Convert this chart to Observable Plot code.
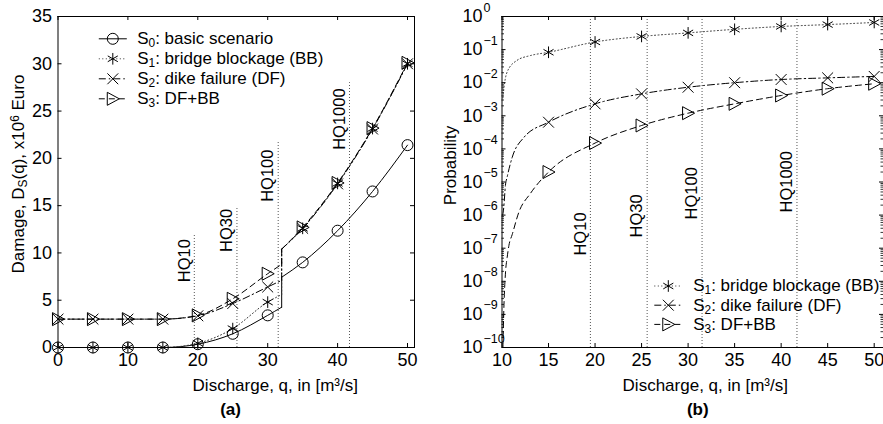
<!DOCTYPE html>
<html><head><meta charset="utf-8">
<script src="https://cdn.jsdelivr.net/npm/d3@7"></script>
<script src="https://cdn.jsdelivr.net/npm/@observablehq/plot@0.6"></script>
<style>
html,body{margin:0;padding:0;background:#fff;}
#wrap{position:relative;width:883px;height:424px;overflow:hidden;background:#fff;}
#a{position:absolute;left:0;top:0;width:440px;}
#b{position:absolute;left:440px;top:0;width:443px;}
svg text{font-family:"Liberation Sans",Arial,Helvetica,sans-serif;}
</style></head><body>
<div id="wrap"><div id="a"></div><div id="b"></div></div>
<script>
// ---------- data: panel (a) damage ----------
const qA = [0, 5, 10, 15, 20, 25, 30, 35, 40, 45, 50];
const damageS0 = [0, 0, 0, 0, 0.35, 1.45, 3.4, 9.0, 12.35, 16.5, 21.4];
const damageS1 = [0, 0, 0, 0, 0.45, 2.0, 4.8, 12.6, 17.35, 23.15, 30.0];
const damageS2 = [3, 3, 3, 3, 3.35, 4.65, 6.4, 12.6, 17.3, 23.1, 30.0];
const damageS3 = [3, 3, 3, 3, 3.4, 5.15, 7.8, 12.7, 17.4, 23.2, 30.1];
const jumpQ = 32;
const jumpLow = [4.26, 5.6, 7.1, 8.8];
const jumpHigh = [7.43, 10.4, 10.4, 10.4];

// ---------- data: panel (b) probability ----------
const qB = [15, 20, 25, 30, 35, 40, 45, 50];
const probS1 = [0.083, 0.17, 0.25, 0.32, 0.41, 0.5, 0.57, 0.66];
const probS2 = [6.4e-4, 2.3e-3, 4.6e-3, 7.3e-3, 1.0e-2, 1.25e-2, 1.4e-2, 1.55e-2];
const probS3 = [2.0e-5, 1.5e-4, 5.1e-4, 1.2e-3, 2.3e-3, 4.1e-3, 6.6e-3, 9.3e-3];
// curve points left of the first marker (read from the steep rise near q=10)
const leadQ1 = [10.1, 10.2, 10.55, 11.6, 13.05];
const leadP1 = [3.5e-3, 6.6e-3, 0.021, 0.047, 0.066];
const leadQ2 = [10.08, 10.19, 10.37, 10.55, 11.1, 12.34];
const leadP2 = [1e-6, 1.7e-6, 8e-6, 1.4e-5, 5.6e-5, 2.2e-4];
const leadQ3 = [10.1, 10.2, 10.38, 10.56, 10.74, 11.1, 11.8, 13.05];
const leadP3 = [1e-10, 1.5e-9, 1.9e-8, 5.4e-8, 1.2e-7, 2.6e-7, 1.2e-6, 4.5e-6];

// ---------- annotations ----------
const hqNames = ["HQ10", "HQ30", "HQ100", "HQ1000"];
const hqQ = [19.5, 25.6, 31.5, 41.7];
const hqTopA = [12.0, 14.9, 21.7, 28.0];
const hqLabelA = [6.9, 10.1, 15.4, 20.9];
const hqLabelB = [6.0e-8, 2.1e-7, 7.4e-7, 1.2e-6];

// ---------- ticks & labels ----------
const xTicksA = [0, 10, 20, 30, 40, 50];
const yTicksA = [0, 5, 10, 15, 20, 25, 30, 35];
const xTicksB = [10, 15, 20, 25, 30, 35, 40, 45, 50];
const decadesB = [-10, -9, -8, -7, -6, -5, -4, -3, -2, -1, 0];
const legendA = ["S_{0}: basic scenario", "S_{1}: bridge blockage (BB)", "S_{2}: dike failure (DF)", "S_{3}: DF+BB"];
const xLabel = "Discharge, q, in [m³/s]";
const yLabelA = "Damage, D_{S}(q), x10^{6} Euro";
const yLabelB = "Probability";

// ---------- styles ----------
const triRight = {draw(ctx, size) {const r = Math.sqrt(size / Math.PI); ctx.moveTo(r, 0); ctx.lineTo(-0.85 * r, -r); ctx.lineTo(-0.85 * r, r); ctx.closePath();}};
const legendLine = {draw(ctx) {ctx.moveTo(-14, 0); ctx.lineTo(14, 0);}};
const styles = [
  {dash: null, symbol: "circle", r: 5.5, stroke: "black"},
  {dash: "1,2.5", symbol: "asterisk", r: 5.5, stroke: "#333"},
  {dash: "7,3,1.5,3", symbol: "times", r: 5, stroke: "black"},
  {dash: "6,4", symbol: triRight, r: 6.5, stroke: "black"}
];
const FONT = '"Liberation Sans", Arial, Helvetica, sans-serif';
const H = 424, MT = 16, MB = 77, FH = H - MT - MB;

// ---------- panel (a) ----------
const WA = 440, MLA = 57.5, MRA = 26, FWA = WA - MLA - MRA;
const seriesA = [damageS0, damageS1, damageS2, damageS3];
const hqA = hqNames.map((name, i) => ({name, q: hqQ[i], top: hqTopA[i], lab: hqLabelA[i]}));
const marksA = [];
marksA.push(Plot.ruleX(hqA, {x: "q", y1: 0, y2: "top", stroke: "#555", strokeDasharray: "1,2", strokeWidth: 1}));
marksA.push(Plot.text(hqA, {x: "q", y: "lab", text: "name", rotate: -90, textAnchor: "start", lineAnchor: "middle", dx: -10, fontSize: 16.5}));
seriesA.forEach((vals, i) => {
  const st = styles[i];
  const pts = qA.map((q, j) => ({q, v: vals[j]}));
  const pre = pts.filter(d => d.q < jumpQ).concat([{q: jumpQ, v: jumpLow[i]}]);
  const post = [{q: jumpQ, v: jumpHigh[i]}].concat(pts.filter(d => d.q > jumpQ));
  const jmp = [{q: jumpQ, v: jumpLow[i]}, {q: jumpQ, v: jumpHigh[i]}];
  const o = {x: "q", y: "v", stroke: st.stroke, strokeWidth: 1, strokeDasharray: st.dash};
  marksA.push(Plot.line(pre, {...o, curve: "monotone-x"}));
  marksA.push(Plot.line(jmp, o));
  marksA.push(Plot.line(post, {...o, curve: "monotone-x"}));
});
seriesA.forEach((vals, i) => {
  const st = styles[i];
  marksA.push(Plot.dot(qA.map((q, j) => ({q, v: vals[j]})), {x: "q", y: "v", symbol: st.symbol, r: st.r, stroke: "black", fill: "none", strokeWidth: 1}));
});
marksA.push(Plot.frame({stroke: "black", strokeWidth: 1}));
marksA.push(Plot.tickX(xTicksA, {x: d => d, insetTop: FH - 4}));
marksA.push(Plot.tickX(xTicksA, {x: d => d, insetBottom: FH - 4}));
marksA.push(Plot.tickY(yTicksA, {y: d => d, insetRight: FWA - 4}));
marksA.push(Plot.tickY(yTicksA, {y: d => d, insetLeft: FWA - 4}));
marksA.push(Plot.text(xTicksA, {x: d => d, frameAnchor: "bottom", dy: 13, lineAnchor: "middle", textAnchor: "middle", text: d => String(d), fontSize: 18}));
marksA.push(Plot.text(yTicksA, {y: d => d, frameAnchor: "left", dx: -6, textAnchor: "end", lineAnchor: "middle", text: d => String(d), fontSize: 18}));
legendA.forEach((lab, i) => {
  const st = styles[i], dy = 22.3 + 20 * i;
  marksA.push(Plot.dot([0], {frameAnchor: "top-left", dx: 54.8, dy, symbol: legendLine, stroke: st.stroke, strokeDasharray: st.dash, fill: "none", strokeWidth: 1}));
  marksA.push(Plot.dot([0], {frameAnchor: "top-left", dx: 54.8, dy, symbol: st.symbol, r: st.r, stroke: "black", fill: "none", strokeWidth: 1}));
  marksA.push(Plot.text([lab], {frameAnchor: "top-left", dx: 79.2, dy, textAnchor: "start", lineAnchor: "middle", fontSize: 17}));
});
marksA.push(Plot.text([xLabel], {frameAnchor: "bottom", dx: 39, dy: 38, textAnchor: "middle", lineAnchor: "middle", fontSize: 17}));
marksA.push(Plot.text(["(a)"], {frameAnchor: "bottom", dx: -5.7, dy: 61.7, textAnchor: "middle", lineAnchor: "middle", fontSize: 17, fontWeight: "bold"}));
marksA.push(Plot.text([yLabelA], {frameAnchor: "left", rotate: -90, dx: -39.5, dy: -8, textAnchor: "middle", lineAnchor: "middle", fontSize: 17}));

const plotA = Plot.plot({
  width: WA, height: H, marginLeft: MLA, marginRight: MRA, marginTop: MT, marginBottom: MB,
  x: {domain: [0, 51], axis: null}, y: {domain: [0, 35], axis: null},
  style: {fontFamily: FONT, fontSize: "17px", background: "white", color: "black"},
  marks: marksA
});

// ---------- panel (b) ----------
const WB = 443, MLB = 61.5, MRB = 0, FWB = WB - MLB - MRB;
const seriesB = [
  {lead: leadQ1.map((q, j) => ({q, p: leadP1[j]})), vals: probS1, st: styles[1]},
  {lead: leadQ2.map((q, j) => ({q, p: leadP2[j]})), vals: probS2, st: styles[2]},
  {lead: leadQ3.map((q, j) => ({q, p: leadP3[j]})), vals: probS3, st: styles[3]}
];
const minorB = [];
decadesB.slice(0, -1).forEach(k => { for (let m = 2; m <= 9; m++) minorB.push(m * Math.pow(10, k)); });
const majorB = decadesB.map(k => Math.pow(10, k));
const hqB = hqNames.map((name, i) => ({name, q: hqQ[i], lab: hqLabelB[i]}));
const marksB = [];
marksB.push(Plot.ruleX(hqB, {x: "q", stroke: "#555", strokeDasharray: "1,2", strokeWidth: 1}));
marksB.push(Plot.text(hqB, {x: "q", y: "lab", text: "name", rotate: -90, textAnchor: "start", lineAnchor: "middle", dx: -10, fontSize: 16.5}));
seriesB.forEach(s => {
  const pts = s.lead.concat(qB.map((q, j) => ({q, p: s.vals[j]})));
  marksB.push(Plot.line(pts, {x: "q", y: "p", curve: "monotone-x", stroke: s.st.stroke, strokeWidth: 1, strokeDasharray: s.st.dash}));
});
seriesB.forEach(s => {
  marksB.push(Plot.dot(qB.map((q, j) => ({q, p: s.vals[j]})), {x: "q", y: "p", symbol: s.st.symbol, r: s.st.r, stroke: "black", fill: "none", strokeWidth: 1}));
});
marksB.push(Plot.ruleX([10], {stroke: "black", strokeWidth: 1}));
marksB.push(Plot.ruleY([1e-10, 1], {stroke: "black", strokeWidth: 1}));
marksB.push(Plot.tickX(xTicksB, {x: d => d, insetTop: FH - 4}));
marksB.push(Plot.tickX(xTicksB, {x: d => d, insetBottom: FH - 4}));
marksB.push(Plot.tickY(majorB, {y: d => d, insetRight: FWB - 4}));
marksB.push(Plot.tickY(majorB, {y: d => d, insetLeft: FWB - 4}));
marksB.push(Plot.tickY(minorB, {y: d => d, insetRight: FWB - 2.5, strokeWidth: 0.8}));
marksB.push(Plot.tickY(minorB, {y: d => d, insetLeft: FWB - 2.5, strokeWidth: 0.8}));
marksB.push(Plot.text(xTicksB, {x: d => d, frameAnchor: "bottom", dy: 13, lineAnchor: "middle", textAnchor: "middle", text: d => String(d), fontSize: 18}));
marksB.push(Plot.text(decadesB, {y: d => Math.pow(10, d), frameAnchor: "left", dx: -19.5, textAnchor: "end", lineAnchor: "middle", text: () => "10", fontSize: 18}));
marksB.push(Plot.text(decadesB, {y: d => Math.pow(10, d), frameAnchor: "left", dx: -18.5, dy: -9, textAnchor: "start", lineAnchor: "middle", text: d => d === 0 ? "0" : "\u2212" + (-d), fontSize: 12.5}));
legendA.slice(1).forEach((lab, i) => {
  const st = styles[i + 1], dy = 269.5 + 19.2 * i;
  marksB.push(Plot.dot([0], {frameAnchor: "top-left", dx: 166.3, dy, symbol: legendLine, stroke: st.stroke, strokeDasharray: st.dash, fill: "none", strokeWidth: 1}));
  marksB.push(Plot.dot([0], {frameAnchor: "top-left", dx: 166.3, dy, symbol: st.symbol, r: st.r, stroke: "black", fill: "none", strokeWidth: 1}));
  marksB.push(Plot.text([lab], {frameAnchor: "top-left", dx: 191.2, dy, textAnchor: "start", lineAnchor: "middle", fontSize: 17}));
});
marksB.push(Plot.text([xLabel], {frameAnchor: "bottom", dx: 12.5, dy: 38, textAnchor: "middle", lineAnchor: "middle", fontSize: 17}));
marksB.push(Plot.text(["(b)"], {frameAnchor: "bottom", dx: 5, dy: 61.7, textAnchor: "middle", lineAnchor: "middle", fontSize: 17, fontWeight: "bold"}));
marksB.push(Plot.text([yLabelB], {frameAnchor: "left", rotate: -90, dx: -51.5, dy: -16.5, textAnchor: "middle", lineAnchor: "middle", fontSize: 17}));

const plotB = Plot.plot({
  width: WB, height: H, marginLeft: MLB, marginRight: MRB, marginTop: MT, marginBottom: MB,
  x: {domain: [10, 51], axis: null}, y: {type: "log", domain: [1e-10, 1], axis: null},
  style: {fontFamily: FONT, fontSize: "17px", background: "white", color: "black"},
  marks: marksB
});

// sub/superscript rendering for text like S_{0} or 10^{6}
function rich(svg) {
  const ns = "http://www.w3.org/2000/svg";
  svg.querySelectorAll("text").forEach(t => {
    const s = t.textContent;
    if (!/[_^]\{/.test(s) || t.children.length) return;
    t.textContent = "";
    const re = /([_^])\{([^}]*)\}/g;
    let last = 0, m;
    const add = (str, kind) => {
      const ts = document.createElementNS(ns, "tspan");
      ts.textContent = str;
      if (kind) { ts.setAttribute("font-size", "70%"); ts.setAttribute("baseline-shift", kind === "_" ? "-22%" : "45%"); }
      t.appendChild(ts);
    };
    while ((m = re.exec(s))) { if (m.index > last) add(s.slice(last, m.index)); add(m[2], m[1]); last = re.lastIndex; }
    if (last < s.length) add(s.slice(last));
  });
}
rich(plotA); rich(plotB);
document.getElementById("a").appendChild(plotA);
document.getElementById("b").appendChild(plotB);
</script>
</body></html>
